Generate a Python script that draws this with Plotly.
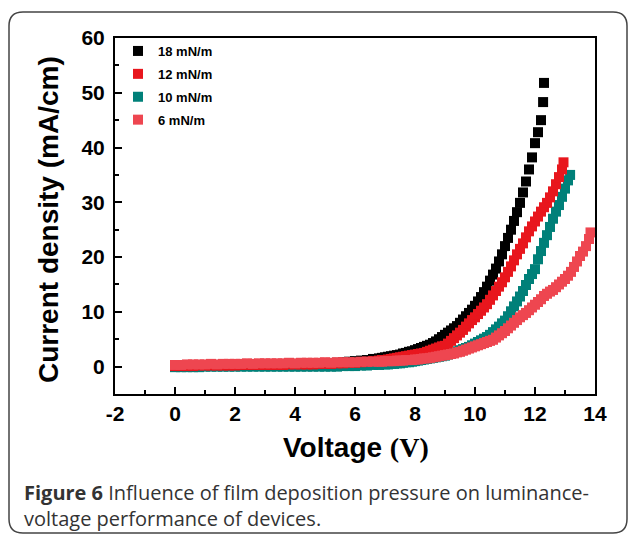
import plotly.graph_objects as go

# ---------------- data ----------------
flat_v = [0.0, 0.2, 0.4, 0.6, 0.8, 1.0, 1.2, 1.4, 1.6, 1.8, 2.0, 2.2, 2.4, 2.6, 2.8, 3.0,
          3.2, 3.4, 3.6, 3.8, 4.0, 4.2, 4.4, 4.6, 4.8, 5.0, 5.2, 5.4, 5.6, 5.8, 6.0, 6.2,
          6.4, 6.6, 6.8]

v18 = flat_v + [6.9, 7.0, 7.1, 7.2, 7.3, 7.4, 7.5, 7.6, 7.7, 7.8, 7.9, 8.0, 8.1, 8.2, 8.3, 8.4,
                8.5, 8.6, 8.7, 8.8, 8.9, 9.0, 9.1, 9.2, 9.3, 9.4, 9.5, 9.6, 9.7, 9.8, 9.9, 10.0,
                10.1, 10.2, 10.3, 10.4, 10.5, 10.6, 10.7, 10.8, 10.9, 11.0, 11.1, 11.2, 11.3,
                11.4, 11.5, 11.6, 11.7, 11.8, 11.9, 12.0, 12.1, 12.2, 12.27, 12.3]
j18 = [0.0, 0.0, 0.0, 0.1, 0.1, 0.1, 0.1, 0.1, 0.1, 0.1, 0.2, 0.2, 0.2, 0.2, 0.2, 0.2,
       0.3, 0.3, 0.3, 0.3, 0.4, 0.4, 0.4, 0.5, 0.5, 0.6, 0.6, 0.7, 0.8, 0.9, 1.0, 1.1,
       1.2, 1.4, 1.5,
       1.6, 1.7, 1.8, 1.9, 2.0, 2.1, 2.2, 2.4, 2.5, 2.7, 2.8, 3.0, 3.2, 3.4, 3.6, 3.8,
       4.0, 4.3, 4.6, 5.0, 5.4, 5.8, 6.2, 6.6, 7.0, 7.4, 8.0, 8.6, 9.2, 9.8, 10.4, 11.1,
       11.9, 12.7, 13.6, 14.6, 15.7, 16.8, 17.9, 19.2, 20.5, 22.0, 23.5, 25.0, 26.6,
       28.2, 29.9, 31.8, 33.8, 36.0, 38.2, 40.8, 42.8, 45.0, 48.3, 51.8]

v12 = flat_v + [6.9, 7.0, 7.1, 7.2, 7.3, 7.4, 7.5, 7.6, 7.7, 7.8, 7.9, 8.0, 8.1, 8.2, 8.3, 8.4,
                8.5, 8.6, 8.7, 8.8, 8.9, 9.0, 9.1, 9.2, 9.3, 9.4, 9.5, 9.6, 9.7, 9.8, 9.9, 10.0,
                10.1, 10.2, 10.3, 10.4, 10.5, 10.6, 10.7, 10.8, 10.9, 11.0, 11.1, 11.2, 11.3,
                11.4, 11.5, 11.6, 11.7, 11.8, 11.9, 12.0, 12.1, 12.2, 12.3, 12.4, 12.5, 12.6,
                12.7, 12.8, 12.9, 12.95]
j12 = [0.1, 0.1, 0.1, 0.1, 0.2, 0.2, 0.2, 0.2, 0.2, 0.2, 0.2, 0.3, 0.3, 0.3, 0.3, 0.3,
       0.3, 0.3, 0.3, 0.4, 0.4, 0.4, 0.4, 0.4, 0.5, 0.5, 0.5, 0.6, 0.6, 0.7, 0.7, 0.8,
       0.9, 1.0, 1.1,
       1.2, 1.2, 1.3, 1.4, 1.5, 1.6, 1.7, 1.8, 1.9, 2.0, 2.1, 2.2, 2.3, 2.4, 2.5, 2.7,
       2.9, 3.1, 3.3, 3.5, 3.7, 3.8, 4.2, 4.7, 5.2, 5.7, 6.2, 6.7, 7.3, 7.9, 8.5, 9.0,
       9.6, 10.2, 10.8, 11.4, 12.2, 13.0, 13.8, 14.6, 15.4, 16.3, 17.3, 18.3, 19.4,
       20.5, 21.5, 22.5, 23.6, 24.7, 25.6, 26.5, 27.4, 28.3, 29.1, 29.9, 30.9, 32.0,
       33.3, 34.6, 36.0, 37.3]

v10 = flat_v + [7.0, 7.1, 7.2, 7.3, 7.4, 7.5, 7.6, 7.7, 7.8, 7.9, 8.0, 8.1, 8.2, 8.3, 8.4,
                8.5, 8.6, 8.7, 8.8, 8.9, 9.0, 9.1, 9.2, 9.3, 9.4, 9.5, 9.6, 9.7, 9.8, 9.9, 10.0,
                10.1, 10.2, 10.3, 10.4, 10.5, 10.6, 10.7, 10.8, 10.9, 11.0, 11.1, 11.2, 11.3,
                11.4, 11.5, 11.6, 11.7, 11.8, 11.9, 12.0, 12.1, 12.2, 12.3, 12.4, 12.5, 12.6,
                12.7, 12.8, 12.9, 13.0, 13.1, 13.17]
j10 = [-0.1, -0.1, -0.1, -0.1, -0.1, 0.0, 0.0, 0.0, 0.0, 0.0, 0.0, 0.0, 0.0, 0.0, 0.0, 0.0,
       0.0, 0.0, 0.0, 0.0, 0.0, 0.0, 0.0, 0.0, 0.0, 0.0, 0.0, 0.0, 0.1, 0.1, 0.1, 0.2,
       0.2, 0.3, 0.3,
       0.4, 0.4, 0.5, 0.5, 0.6, 0.6, 0.7, 0.8, 0.8, 0.9, 1.0, 1.1, 1.2, 1.3, 1.4,
       1.5, 1.6, 1.7, 1.8, 1.9, 2.0, 2.2, 2.4, 2.6, 2.8, 3.0, 3.2, 3.4, 3.6, 3.9, 4.2,
       4.5, 4.8, 5.1, 5.4, 5.8, 6.3, 6.8, 7.3, 7.9, 8.4, 9.2, 10.1, 11.0,
       11.9, 12.8, 13.8, 14.9, 16.0, 16.9, 17.8, 19.6, 21.1, 22.6, 24.0, 25.5, 27.0,
       28.3, 29.5, 31.0, 32.5, 34.0, 35.0]

v6 = flat_v + [6.9, 7.0, 7.1, 7.2, 7.3, 7.4, 7.5, 7.6, 7.7, 7.8, 7.9, 8.0, 8.1, 8.2, 8.3, 8.4,
               8.5, 8.6, 8.7, 8.8, 8.9, 9.0, 9.1, 9.2, 9.3, 9.4, 9.5, 9.6, 9.7, 9.8, 9.9, 10.0,
               10.1, 10.2, 10.3, 10.4, 10.5, 10.6, 10.7, 10.8, 10.9, 11.0, 11.1, 11.2, 11.3,
               11.4, 11.5, 11.6, 11.7, 11.8, 11.9, 12.0, 12.1, 12.2, 12.3, 12.4, 12.5, 12.6,
               12.7, 12.8, 12.9, 13.0, 13.1, 13.2, 13.3, 13.4, 13.5, 13.6, 13.7, 13.8, 13.85]
j6 = [0.3, 0.3, 0.4, 0.4, 0.4, 0.4, 0.5, 0.4, 0.5, 0.5, 0.5, 0.5, 0.6, 0.5, 0.6, 0.6,
      0.6, 0.6, 0.6, 0.7, 0.6, 0.7, 0.7, 0.7, 0.7, 0.8, 0.7, 0.8, 0.8, 0.8, 0.8, 0.9,
      0.9, 0.9, 0.9,
      0.9, 1.0, 1.0, 1.0, 1.0, 1.1, 1.1, 1.1, 1.2, 1.2, 1.2, 1.3, 1.3, 1.4, 1.5, 1.5,
      1.6, 1.7, 1.8, 1.9, 2.0, 2.1, 2.2, 2.3, 2.4, 2.6, 2.7, 2.9, 3.1, 3.3, 3.5, 3.7,
      3.9, 4.1, 4.3, 4.5, 4.7, 4.9, 5.3, 5.7, 6.1, 6.5, 7.0, 7.5, 8.0,
      8.5, 9.0, 9.4, 9.8, 10.3, 10.8, 11.3, 11.8, 12.3, 12.9, 13.3, 13.7, 14.0,
      14.5, 15.0, 15.5, 16.0, 16.6, 17.3, 18.2, 19.2, 20.2, 21.0, 22.0, 23.3, 24.5]

names = ["18 mN/m", "12 mN/m", "10 mN/m", "6 mN/m"]
colors = ["#000000", "#E8161D", "#008079", "#EE4650"]

x_ticks = [-2, 0, 2, 4, 6, 8, 10, 12, 14]
y_ticks = [0, 10, 20, 30, 40, 50, 60]

# ---------------- figure ----------------
W, H = 629, 534
ML, MR, MT, MB = 115, 34, 38, 140
PW, PH = W - ML - MR, H - MT - MB


def px(xp):
    return (xp - ML) / PW


def py(yp):
    return (H - MB - yp) / PH


fig = go.Figure()

series = [(v18, j18, 0, 1), (v10, j10, 2, 3), (v12, j12, 1, 2), (v6, j6, 3, 4)]
for vx, jy, idx, rank in series:
    fig.add_trace(go.Scatter(
        x=vx, y=jy, mode="markers", name=names[idx],
        legendrank=rank, legendgroup=names[idx],
        marker=dict(symbol="square", size=10, color=colors[idx], line=dict(width=0)),
    ))

axis_common = dict(
    showline=True, linewidth=2, linecolor="black", mirror=True,
    ticks="inside", ticklen=7, tickwidth=2, tickcolor="black",
    showgrid=False, zeroline=False,
    tickfont=dict(family="Liberation Sans, Arial", size=21, color="black", weight="bold"),
)

fig.update_xaxes(range=[-2, 14], tickvals=x_ticks, ticktext=[str(t) for t in x_ticks],
                 minor=dict(dtick=1, tick0=0, ticks="inside", ticklen=4, tickwidth=2,
                            tickcolor="black", showgrid=False),
                 **axis_common)
fig.update_yaxes(range=[-5, 60], tickvals=y_ticks, ticktext=[str(t) for t in y_ticks],
                 minor=dict(dtick=5, tick0=0, ticks="inside", ticklen=4, tickwidth=2,
                            tickcolor="black", showgrid=False),
                 ticklabelstandoff=4,
                 **axis_common)

# rounded border around the whole figure
x0, x1, y0, y1, r = 9, 627, 12, 533, 14
path = (f"M {px(x0)} {py(y1 - r)} "
        f"L {px(x0)} {py(y0 + r)} Q {px(x0)} {py(y0)} {px(x0 + r)} {py(y0)} "
        f"L {px(x1 - r)} {py(y0)} Q {px(x1)} {py(y0)} {px(x1)} {py(y0 + r)} "
        f"L {px(x1)} {py(y1 - r)} Q {px(x1)} {py(y1)} {px(x1 - r)} {py(y1)} "
        f"L {px(x0 + r)} {py(y1)} Q {px(x0)} {py(y1)} {px(x0)} {py(y1 - r)} Z")
fig.add_shape(type="path", path=path, xref="paper", yref="paper",
              line=dict(color="#444444", width=1.5), layer="below")

annos = [
    dict(text="Voltage <span style=\"font-family:'Liberation Serif', 'Times New Roman', serif\">(V)</span>",
         x=px(356), y=py(447), xanchor="center", yanchor="middle",
         font=dict(family="Liberation Sans, Arial", size=28, color="black", weight="bold")),
    dict(text="Current density (mA/cm)", textangle=-90,
         x=px(48), y=py(220), xanchor="center", yanchor="middle",
         font=dict(family="Liberation Sans, Arial", size=28, color="black", weight="bold")),
    dict(text="<b>Figure 6</b> Influence of film deposition pressure on luminance-<br>"
              "voltage performance of devices.",
         x=px(22), y=py(505), xanchor="left", yanchor="middle", align="left",
         font=dict(family="Open Sans, sans-serif", size=20, color="#333333")),
]
for a in annos:
    fig.add_annotation(xref="paper", yref="paper", showarrow=False, **a)

fig.update_layout(
    width=W, height=H,
    margin=dict(l=ML, r=MR, t=MT, b=MB, pad=0),
    paper_bgcolor="white", plot_bgcolor="white",
    showlegend=True,
    legend=dict(x=px(118), y=py(36), xanchor="left", yanchor="top",
                bgcolor="rgba(0,0,0,0)", tracegroupgap=3, itemsizing="trace",
                font=dict(family="Liberation Sans, Arial", size=13, color="black", weight="bold")),
)

fig.write_html("out.html", config={"displayModeBar": False},
               post_script="document.body.style.margin='0';")
